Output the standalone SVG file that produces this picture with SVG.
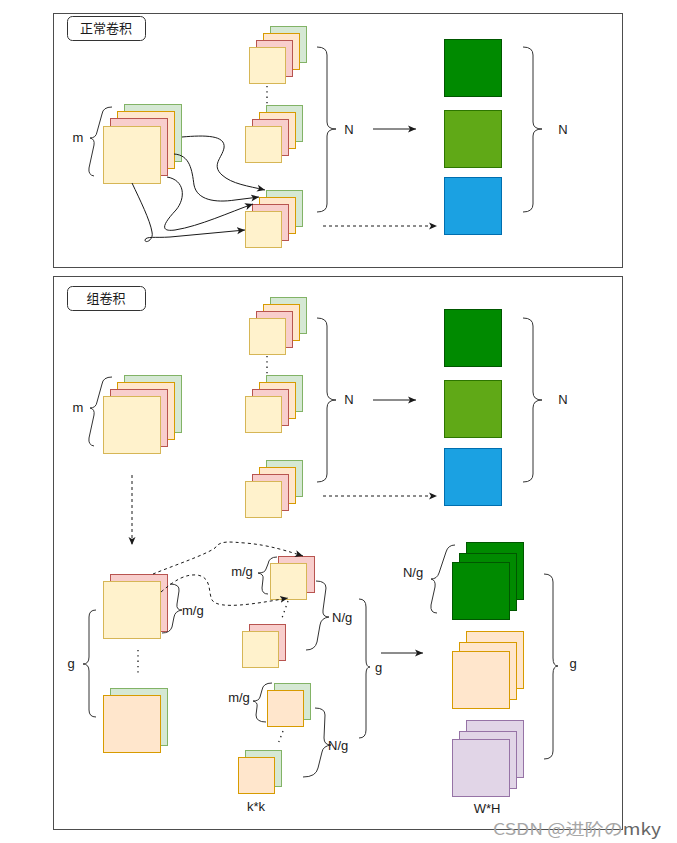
<svg xmlns="http://www.w3.org/2000/svg" width="677" height="843" viewBox="0 0 677 843">
<defs>
<style>
.panel{fill:#fff;stroke:#4d4d4d;stroke-width:1}
.tag{fill:#fff;stroke:#333;stroke-width:1}
.t{font-family:"Liberation Sans","Noto Sans CJK SC",sans-serif;font-size:13px;fill:#1a1a1a}
.tc{text-anchor:middle}
.g{fill:#d5e8d4;stroke:#82b366}
.o{fill:#ffe6cc;stroke:#d79b00}
.r{fill:#f8cecc;stroke:#b85450}
.y{fill:#fff2cc;stroke:#d6b656}
.p{fill:#e1d5e7;stroke:#9673a6}
.dg{fill:#008a00;stroke:#005700}
.lg{fill:#60a917;stroke:#2d7600}
.bl{fill:#1ba1e2;stroke:#006eaf}
.br{fill:none;stroke:#333;stroke-width:1}
.ln{fill:none;stroke:#1a1a1a;stroke-width:1}
.da{stroke-dasharray:3 3}
.dot{fill:none;stroke:#1a1a1a;stroke-width:1.3;stroke-dasharray:1.3 4}
</style>
<marker id="ah" markerUnits="userSpaceOnUse" markerWidth="9" markerHeight="8" refX="8" refY="4" orient="auto">
<path d="M0,0.5 L8,4 L0,7.5 L2,4 Z" fill="#1a1a1a"/>
</marker>
</defs>
<rect width="677" height="843" fill="#fff"/>

<g id="panel-top">
<rect class="panel" x="53.5" y="13.5" width="569" height="254"/>
<rect class="tag" x="67.5" y="16.5" width="78" height="24" rx="5"/>
<text class="t tc" x="106" y="33">正常卷积</text>
</g>
<g id="panel-bottom">
<rect class="panel" x="53.5" y="276.5" width="569" height="553"/>
<rect class="tag" x="67.5" y="286.5" width="78" height="24" rx="5"/>
<text class="t tc" x="106" y="303">组卷积</text>
</g>

<!-- TOP PANEL -->
<g id="top-input">
<rect class="g" x="124.5" y="104.5" width="57" height="57"/>
<rect class="o" x="117.5" y="111.5" width="57" height="57"/>
<rect class="r" x="110.5" y="118.5" width="57" height="57"/>
<rect class="y" x="103.5" y="126.5" width="57" height="57"/>
<path class="br" d="M112,107 Q103,107 102,114 L97,132 Q96,138 90,138 Q95,139 94,145 L89,168 Q88,175 94,176"/>
<text class="t tc" x="78" y="142">m</text>
</g>
<g id="top-filter-1">
<rect class="g" x="270.5" y="26.5" width="36" height="36"/>
<rect class="o" x="263.5" y="33.5" width="36" height="36"/>
<rect class="r" x="256.5" y="40.5" width="36" height="36"/>
<rect class="y" x="249.5" y="47.5" width="36" height="36"/>
</g>
<g id="top-filter-2">
<rect class="g" x="266.5" y="105.5" width="36" height="36"/>
<rect class="o" x="259.5" y="112.5" width="36" height="36"/>
<rect class="r" x="252.5" y="119.5" width="36" height="36"/>
<rect class="y" x="245.5" y="126.5" width="36" height="36"/>
</g>
<g id="top-filter-3">
<rect class="g" x="266.5" y="190.5" width="36" height="36"/>
<rect class="o" x="259.5" y="197.5" width="36" height="36"/>
<rect class="r" x="252.5" y="204.5" width="36" height="36"/>
<rect class="y" x="245.5" y="211.5" width="36" height="36"/>
</g>
<g id="top-filter-brace">
<path class="dot" d="M267,86 L267,107"/>
<path class="br" d="M317,47 Q327,47 327,55 L327,122 Q327,129 336,129 Q327,129 327,136 L327,204 Q327,212 317,212"/>
<text class="t tc" x="349" y="134">N</text>
</g>
<g id="top-output">
<rect class="dg" x="444.5" y="39.5" width="57" height="57"/>
<rect class="lg" x="444.5" y="110.5" width="57" height="57"/>
<rect class="bl" x="444.5" y="177.5" width="57" height="57"/>
<path class="br" d="M523,47 Q533,47 533,55 L533,122 Q533,129 542,129 Q533,129 533,136 L533,204 Q533,212 523,212"/>
<text class="t tc" x="563" y="134">N</text>
</g>

<!-- BOTTOM PANEL upper -->
<g id="bot-input">
<rect class="g" x="124.5" y="375.5" width="57" height="57"/>
<rect class="o" x="117.5" y="382.5" width="57" height="57"/>
<rect class="r" x="110.5" y="389.5" width="57" height="57"/>
<rect class="y" x="103.5" y="396.5" width="57" height="57"/>
<path class="br" d="M112,377 Q103,377 102,384 L97,402 Q96,408 90,408 Q95,409 94,415 L89,438 Q88,445 94,446"/>
<text class="t tc" x="78" y="412">m</text>
</g>
<g id="bot-filter-1">
<rect class="g" x="270.5" y="297.5" width="36" height="36"/>
<rect class="o" x="263.5" y="304.5" width="36" height="36"/>
<rect class="r" x="256.5" y="311.5" width="36" height="36"/>
<rect class="y" x="249.5" y="318.5" width="36" height="36"/>
</g>
<g id="bot-filter-2">
<rect class="g" x="266.5" y="375.5" width="36" height="36"/>
<rect class="o" x="259.5" y="382.5" width="36" height="36"/>
<rect class="r" x="252.5" y="389.5" width="36" height="36"/>
<rect class="y" x="245.5" y="396.5" width="36" height="36"/>
</g>
<g id="bot-filter-3">
<rect class="g" x="266.5" y="460.5" width="36" height="36"/>
<rect class="o" x="259.5" y="467.5" width="36" height="36"/>
<rect class="r" x="252.5" y="474.5" width="36" height="36"/>
<rect class="y" x="245.5" y="481.5" width="36" height="36"/>
</g>
<g id="bot-filter-brace">
<path class="dot" d="M267,356 L267,376"/>
<path class="br" d="M317,318 Q327,318 327,326 L327,392 Q327,400 336,400 Q327,400 327,408 L327,474 Q327,482 317,482"/>
<text class="t tc" x="349" y="404">N</text>
</g>
<g id="bot-output">
<rect class="dg" x="444.5" y="309.5" width="57" height="57"/>
<rect class="lg" x="444.5" y="380.5" width="57" height="57"/>
<rect class="bl" x="444.5" y="448.5" width="57" height="57"/>
<path class="br" d="M523,318 Q533,318 533,326 L533,392 Q533,400 542,400 Q533,400 533,408 L533,474 Q533,482 523,482"/>
<text class="t tc" x="563" y="404">N</text>
</g>

<!-- BOTTOM PANEL lower -->
<g id="group-input">
<rect class="r" x="110.5" y="574.5" width="57" height="57"/>
<rect class="y" x="103.5" y="581.5" width="57" height="57"/>
<path class="br" d="M170,584 Q180,584 179,591 L177,604 Q176,610 182,610 Q175,611 174,617 L172,627 Q170,633 162,633"/>
<text class="t" x="182" y="615">m/g</text>
<path class="dot" d="M138,650 L138,674"/>
<rect class="g" x="110.5" y="688.5" width="57" height="57"/>
<rect class="o" x="103.5" y="695.5" width="57" height="57"/>
<path class="br" d="M96,610 Q89,610 89,617 L89,657 Q89,664 83,664 Q89,664 89,671 L89,710 Q89,717 96,717"/>
<text class="t tc" x="71" y="668">g</text>
</g>
<g id="group-filter-1">
<rect class="r" x="278.5" y="556.5" width="36" height="36"/>
<rect class="y" x="270.5" y="563.5" width="36" height="36"/>
<path class="br" d="M277,557 Q269,557 268,564 L266,569 Q265,573 258,573 Q264,574 263,579 L262,588 Q262,594 268,594"/>
<text class="t tc" x="242" y="576">m/g</text>
<path class="dot" d="M288,601 L282,618"/>
<rect class="r" x="249.5" y="624.5" width="36" height="36"/>
<rect class="y" x="242.5" y="631.5" width="36" height="36"/>
<path class="br" d="M316,581 Q326,581 326,588 L323,610 Q322,617 329,617 Q321,618 320,625 L317,642 Q315,650 306,650"/>
<text class="t" x="332" y="622">N/g</text>
</g>
<g id="group-filter-2">
<rect class="g" x="274.5" y="683.5" width="36" height="36"/>
<rect class="o" x="267.5" y="690.5" width="36" height="36"/>
<path class="br" d="M272,683 Q263,683 262,690 L260,697 Q259,701 253,701 Q258,702 257,707 L256,715 Q256,722 266,722"/>
<text class="t tc" x="239" y="702">m/g</text>
<path class="dot" d="M283,731 L278,744"/>
<rect class="g" x="245.5" y="750.5" width="36" height="36"/>
<rect class="o" x="238.5" y="757.5" width="36" height="36"/>
<path class="br" d="M315,708 Q325,708 325,715 L324,738 Q324,745 331,745 Q323,746 322,752 L318,768 Q316,777 303,777"/>
<text class="t" x="328" y="750">N/g</text>
<text class="t tc" x="256" y="811">k*k</text>
</g>
<g id="group-filter-brace">
<path class="br" d="M359,599 Q366,599 366,607 L366,660 Q366,667 370,667 Q366,667 366,674 L366,730 Q366,738 359,738"/>
<text class="t" x="375" y="672">g</text>
</g>
<g id="group-output">
<rect class="dg" x="466.5" y="542.5" width="57" height="57"/>
<rect class="dg" x="459.5" y="553.5" width="57" height="57"/>
<rect class="dg" x="452.5" y="562.5" width="57" height="57"/>
<path class="br" d="M455,545 Q448,545 446,552 L439,573 Q437,579 431,579 Q436,580 435,587 L431,605 Q430,613 437,613"/>
<text class="t tc" x="413" y="577">N/g</text>
<rect class="o" x="466.5" y="631.5" width="57" height="57"/>
<rect class="o" x="459.5" y="642.5" width="57" height="57"/>
<rect class="o" x="452.5" y="651.5" width="57" height="57"/>
<rect class="p" x="466.5" y="720.5" width="57" height="57"/>
<rect class="p" x="459.5" y="731.5" width="57" height="57"/>
<rect class="p" x="452.5" y="739.5" width="57" height="57"/>
<path class="br" d="M544,574 Q553,574 553,582 L553,658 Q553,666 558,666 Q553,666 553,674 L553,751 Q553,759 544,759"/>
<text class="t tc" x="573" y="668">g</text>
<text class="t tc" x="487" y="813">W*H</text>
</g>

<g id="connectors">
<path class="ln" marker-end="url(#ah)" d="M182,137 C205,135 226,135 224,148 C222,158 211,165 222,175 C232,184 248,186 265,190"/>
<path class="ln" marker-end="url(#ah)" d="M174,154 C190,155 192,170 194,185 C197,200 215,203 235,200 L259,197"/>
<path class="ln" marker-end="url(#ah)" d="M167,177 C185,180 186,198 176,210 C162,225 160,232 175,230 C200,226 230,212 253,204"/>
<path class="ln" marker-end="url(#ah)" d="M132,183 C140,200 150,220 152,232 C154,240 145,244 145,240 C146,236 155,238 170,237 L245,230"/>
<path class="ln" marker-end="url(#ah)" d="M373,129 L416,129"/>
<path class="ln da" marker-end="url(#ah)" d="M323,226 L437,226"/>
<path class="ln" marker-end="url(#ah)" d="M373,400 L416,400"/>
<path class="ln da" marker-end="url(#ah)" d="M323,496 L437,496"/>
<path class="ln da" marker-end="url(#ah)" d="M132,475 L132,545"/>
<path class="ln da" marker-end="url(#ah)" d="M153,574 C175,565 205,555 215,548 C220,540 230,542 245,543 C270,545 290,552 303,556"/>
<path class="ln da" marker-end="url(#ah)" d="M161,592 C175,580 185,574 197,575 C212,577 208,592 212,600 C218,610 255,604 288,598"/>
<path class="ln" marker-end="url(#ah)" d="M381,653 L423,653"/>
</g>

<text x="493" y="835" font-family="'Noto Sans CJK SC',sans-serif" font-size="16" fill="#a6a6a6" textLength="168" lengthAdjust="spacingAndGlyphs">CSDN @进阶の<tspan fill="#666">mky</tspan></text>
</svg>
